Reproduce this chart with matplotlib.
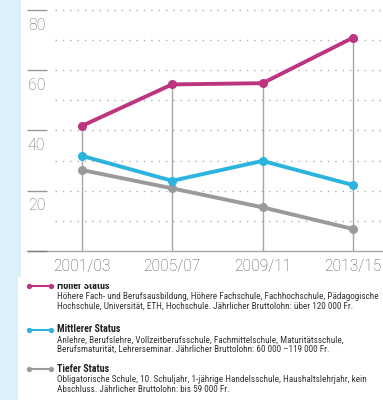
import matplotlib
matplotlib.use('Agg')
import matplotlib.pyplot as plt
from matplotlib.patches import Rectangle

periods = ['2001/03', '2005/07', '2009/11', '2013/15']
hoher = [41.5, 55.3, 55.7, 70.8]
mittlerer = [31.6, 23.3, 29.9, 21.9]
tiefer = [26.9, 20.8, 14.5, 7.3]
yticks = [20, 40, 60, 80]
grid_levels = [10, 20, 30, 40, 50, 60, 70, 80]

legend_items = [
    ('Hoher Status',
     ['Höhere Fach- und Berufsausbildung, Höhere Fachschule, Fachhochschule, Pädagogische',
      'Hochschule, Universität, ETH, Hochschule. Jährlicher Bruttolohn: über 120 000 Fr.']),
    ('Mittlerer Status',
     ['Anlehre, Berufslehre, Vollzeitberufsschule, Fachmittelschule, Maturitätsschule,',
      'Berufsmaturität, Lehrerseminar. Jährlicher Bruttolohn: 60 000 –119 000 Fr.']),
    ('Tiefer Status',
     ['Obligatorische Schule, 10. Schuljahr, 1-jährige Handelsschule, Haushaltslehrjahr, kein',
      'Abschluss. Jährlicher Bruttolohn: bis 59 000 Fr.']),
]

PINK = '#bd3580'
BLUE = '#2cb3de'
GREY = '#9a9a9a'
BG = '#dcf0fc'
TICKFONT = ['Roboto', 'DejaVu Sans']
FONT = ['Roboto Condensed', 'DejaVu Sans']

W, H = 383, 400
fig = plt.figure(figsize=(W / 100, H / 100), dpi=100)
fig.patch.set_facecolor(BG)

def px_axes(x0, y0, x1, y1):
    '''axes from pixel box measured from the top-left corner'''
    return fig.add_axes([x0 / W, 1 - y1 / H, (x1 - x0) / W, (y1 - y0) / H])

# white backing of the legend block (starts a bit further left)
fig.patches.append(Rectangle((18 / W, 0), 1 - 18 / W, 1 - 277 / H,
                             transform=fig.transFigure, facecolor='white',
                             edgecolor='none', zorder=-5))

# chart panel
ax = px_axes(21, 0, W, 277)
ax.set_facecolor('white')
for s in ax.spines.values():
    s.set_visible(False)
ax.set_xticks([])
ax.set_yticks([])
ax.set_xlim(-0.671, 3.332)
ax.set_ylim(-(277 - 251) / 3.0125, 251 / 3.0125)

xs = list(range(len(periods)))
ax.hlines(grid_levels, -0.295, 3.4, colors='#b0b0b0', linewidth=1.0,
          linestyles=(0, (1, 4.3)), zorder=1)
ax.hlines(yticks, -0.605, -0.384, colors='#9a9a9a', linewidth=1.0, zorder=1)
ax.hlines(0, -0.605, 3.4, colors='#a8a8a8', linewidth=1.0, zorder=1)
ax.hlines(0, -0.605, -0.384, colors='#808080', linewidth=1.0, zorder=2)
tops = [max(a, b, c) for a, b, c in zip(hoher, mittlerer, tiefer)]
ax.vlines(xs, 0, tops, colors='#a5a5a5', linewidth=1.0, zorder=2)

for vals, col in [(tiefer, GREY), (mittlerer, BLUE), (hoher, PINK)]:
    ax.plot(xs, vals, color=col, linewidth=2.8, marker='o', markersize=5.5,
            solid_capstyle='round', zorder=3)

for v in yticks:
    ax.text(-0.595, v - 5, str(v), ha='left', va='center', fontsize=11.5,
            fontweight='light', color='#6e6e6e', family=TICKFONT)
for i, p in enumerate(periods):
    ax.text(i, -5.0, p, ha='center', va='center', fontsize=11.2,
            fontweight='light', color='#555555', family=TICKFONT)

# legend panel, its top edge cuts the first heading
lg = px_axes(18, 284, W, H)
lg.patch.set_visible(False)
lg.set_xlim(18, W)
lg.set_ylim(H, 284)
for s in lg.spines.values():
    s.set_visible(False)
lg.set_xticks([])
lg.set_yticks([])

heads_y = [286.0, 329.5, 369]
for (head, lines), hy, col in zip(legend_items, heads_y, [PINK, BLUE, GREY]):
    lg.plot([29, 51], [hy, hy], color=col, linewidth=1.5, marker='o',
            markersize=2.8, markevery=[0, 1], clip_on=False)
    lg.text(57, hy, head, ha='left', va='center', fontsize=7.2,
            fontweight='bold', color='#222222', family=FONT, clip_on=True)
    for k, line in enumerate(lines):
        lg.text(57, hy + 10.3 + 9.8 * k, line, ha='left', va='center',
                fontsize=6.55, color='#333333', family=FONT)

fig.savefig('out.png', dpi=100, facecolor=BG)
